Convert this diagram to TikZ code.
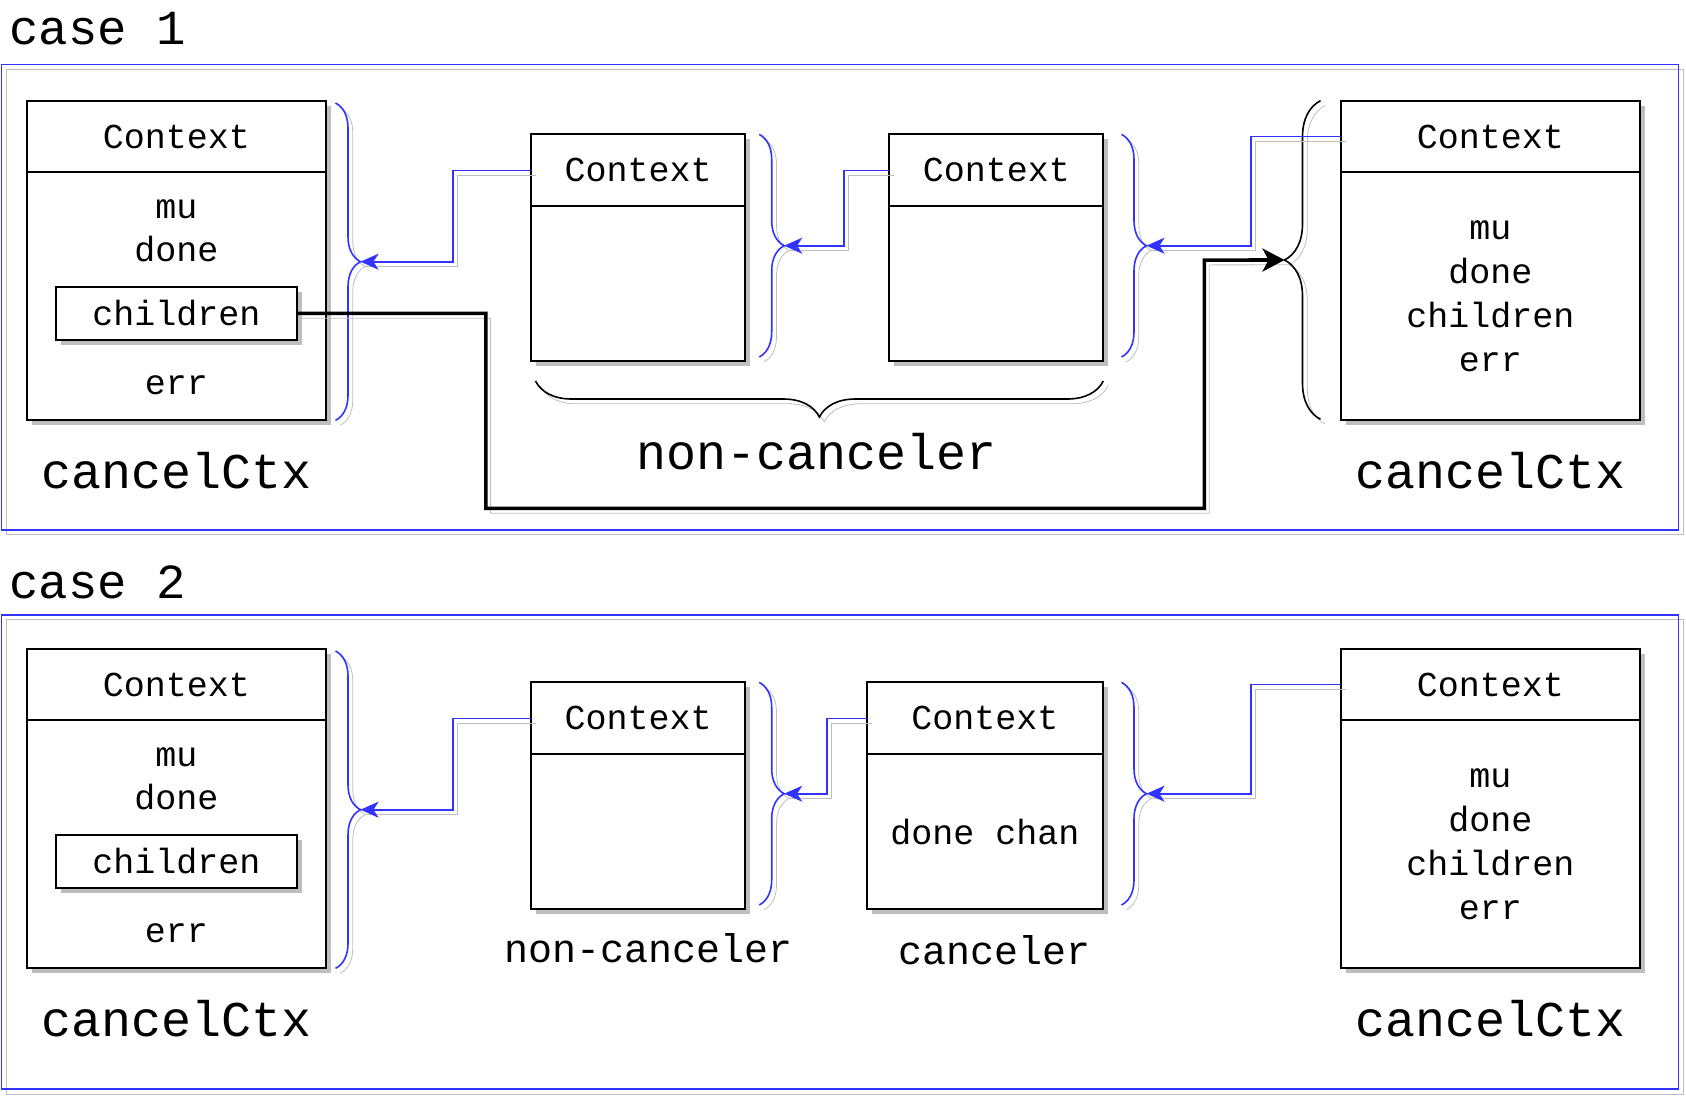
\documentclass[tikz,border=0pt]{standalone}
\usepackage{fontspec}
\setmainfont{Liberation Mono}
\usetikzlibrary{
  arrows.meta,                 % for arrow tips
  positioning,                 % for below=of
  shadows,                     % for drop shadow
  decorations.pathreplacing    % for braces
}
\definecolor{linkblue}{RGB}{51,51,255}
\definecolor{shade}{RGB}{190,190,190}
\tikzstyle{boxshadow} = [drop shadow={shadow xshift=2.5pt, shadow yshift=-2.5pt, fill=shade, opacity=1}]
\tikzstyle{lineshadow} = [preaction={draw=shade, -, transform canvas={shift={(2.4pt,-2.4pt)}}}]
\tikzstyle{ctxbox} = [rectangle, draw, line width=1pt, fill=white, boxshadow, outer sep=0pt, inner sep=0pt, align=center, font=\fontsize{17.5}{22}\selectfont]
\tikzstyle{bighead} = [ctxbox, minimum width=149.5pt, minimum height=35.5pt]
\tikzstyle{bigbody} = [ctxbox, minimum width=149.5pt, minimum height=124.2pt]
\tikzstyle{smallhead} = [ctxbox, minimum width=107pt, minimum height=36pt]
\tikzstyle{smallbody} = [ctxbox, minimum width=107pt, minimum height=77.4pt]
\tikzstyle{fieldbox} = [ctxbox, minimum width=120.5pt, minimum height=26.4pt]
\tikzstyle{fieldtext} = [inner sep=0pt, align=center, font=\fontsize{17.5}{21.5}\selectfont]
\tikzstyle{bigname} = [inner sep=0pt, font=\fontsize{25}{30}\selectfont]
\tikzstyle{smallname} = [inner sep=0pt, font=\fontsize{20}{24}\selectfont]
\tikzstyle{casename} = [inner sep=0pt, anchor=west, font=\fontsize{24.5}{28}\selectfont]
\tikzstyle{caseframe} = [draw=linkblue, line width=0.9pt, lineshadow]
\tikzstyle{blink} = [draw=linkblue, line width=0.9pt, -{Stealth[length=9pt,width=8pt,inset=2.5pt]}, lineshadow]
\tikzstyle{childlink} = [draw=black, line width=1.8pt, -{Stealth[length=11pt,width=11.5pt,inset=3pt]}, lineshadow]
\tikzstyle{bluebrace} = [draw=linkblue, line width=0.8pt, decorate, decoration={brace, amplitude=12.5pt}, lineshadow]
\tikzstyle{blackbrace} = [draw=black, line width=0.8pt, decorate, decoration={brace, amplitude=18pt}, lineshadow]

\begin{document}
\begin{tikzpicture}[x=0.5pt, y=-0.5pt]
\useasboundingbox (0,0) rectangle (1686,1098);

% case 1
\draw[caseframe] (1.5,64.5) rectangle (1678.5,530);
\node[casename] (case1) at (9,29) {case 1};

\node[bighead, anchor=north west] (cc1head) at (26.9,101) {Context};
\node[bigbody, below=0pt of cc1head] (cc1body) {};
\node[fieldtext] (cc1mu) at (176.3,231.2) {mu\\done};
\node[fieldbox] (cc1ch) at (176.3,313.4) {children};
\node[fieldtext] (cc1err) at (176.3,385) {err};
\node[bigname] (cc1name) at (176.3,471) {cancelCtx};

\node[smallhead, anchor=north west] (nc1head) at (531.2,134.4) {Context};
\node[smallbody, below=0pt of nc1head] (nc1body) {};
\node[smallhead, anchor=north west] (nc2head) at (889.3,134.4) {Context};
\node[smallbody, below=0pt of nc2head] (nc2body) {};
\node[bigname] (ncname) at (817,452) {non-canceler};

\node[bighead, anchor=north west] (rc1head) at (1340.9,101) {Context};
\node[bigbody, below=0pt of rc1head] (rc1body) {mu\\done\\children\\err};
\node[bigname] (rc1name) at (1490.3,471) {cancelCtx};

% braces
\draw[bluebrace] (335.5,103) -- (335.5,420.4);
\coordinate (b11tip) at (360.5,261.7);
\draw[bluebrace] (759.2,134.4) -- (759.2,357);
\coordinate (b12tip) at (784.2,245.7);
\draw[bluebrace] (1121.5,134.4) -- (1121.5,357);
\coordinate (b13tip) at (1146.5,245.7);
\draw[blackbrace] (1320.5,419.3) -- (1320.5,100.7);
\coordinate (bbtip) at (1284.5,260);
\draw[blackbrace] (1103.3,381) -- (535.5,381);

% links
\draw[blink] (nc1head.west) -- ++(-78.5,0) |- (b11tip);
\draw[blink] (nc2head.west) -- ++(-45.3,0) |- (b12tip);
\draw[blink] (rc1head.west) -- ++(-90.3,0) |- (b13tip);
\draw[childlink] (cc1ch.east) -| ++(189,195) -| ++(718.6,-248.3) -- (bbtip);

% case 2
\draw[caseframe] (1.5,615) rectangle (1678.5,1089.3);
\node[casename] (case2) at (9,582.8) {case 2};

\node[bighead, anchor=north west] (cc2head) at (26.9,649) {Context};
\node[bigbody, below=0pt of cc2head] (cc2body) {};
\node[fieldtext] (cc2mu) at (176.3,779.2) {mu\\done};
\node[fieldbox] (cc2ch) at (176.3,861.4) {children};
\node[fieldtext] (cc2err) at (176.3,933) {err};
\node[bigname] (cc2name) at (176.3,1019) {cancelCtx};

\node[smallhead, anchor=north west] (nc3head) at (531.2,682.4) {Context};
\node[smallbody, below=0pt of nc3head] (nc3body) {};
\node[smallname] (nc3name) at (649,948.4) {non-canceler};

\node[smallhead, anchor=north west, minimum width=118.3pt] (cn1head) at (866.7,682.4) {Context};
\node[smallbody, minimum width=118.3pt, below=0pt of cn1head] (cn1body) {done chan};
\node[smallname] (cn1name) at (994.7,950.6) {canceler};

\node[bighead, anchor=north west] (rc2head) at (1340.9,649) {Context};
\node[bigbody, below=0pt of rc2head] (rc2body) {mu\\done\\children\\err};
\node[bigname] (rc2name) at (1490.3,1019) {cancelCtx};

\draw[bluebrace] (335.5,651) -- (335.5,968.4);
\coordinate (b21tip) at (360.5,809.7);
\draw[bluebrace] (759.2,682.4) -- (759.2,905);
\coordinate (b22tip) at (784.2,793.7);
\draw[bluebrace] (1121.5,682.4) -- (1121.5,905);
\coordinate (b23tip) at (1146.5,793.7);

\draw[blink] (nc3head.west) -- ++(-78.5,0) |- (b21tip);
\draw[blink] (cn1head.west) -- ++(-39.8,0) |- (b22tip);
\draw[blink] (rc2head.west) -- ++(-90.3,0) |- (b23tip);
\end{tikzpicture}
\end{document}
